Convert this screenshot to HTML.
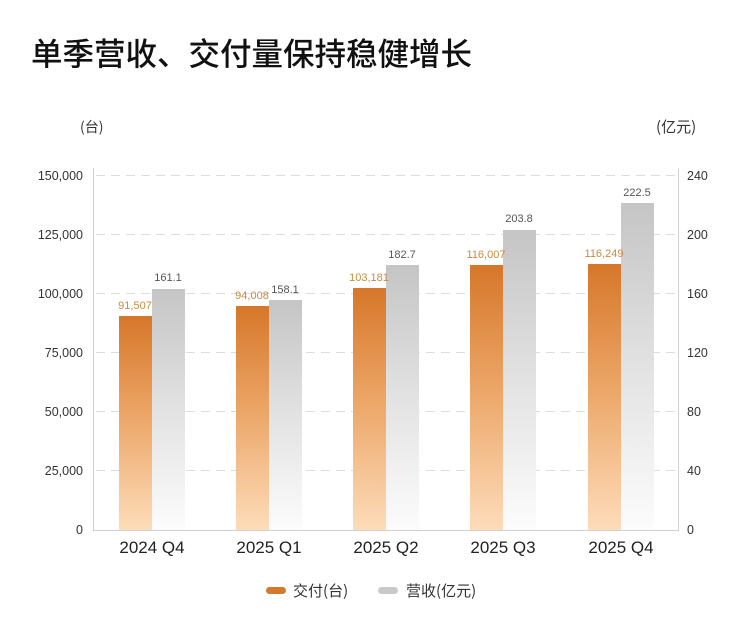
<!DOCTYPE html>
<html><head><meta charset="utf-8">
<style>
html,body{margin:0;padding:0;background:#fff;}
svg{display:block;}
text{font-family:"Liberation Sans","Noto Sans CJK SC",sans-serif;}
.cjk{font-family:"Noto Sans CJK SC","Liberation Sans",sans-serif;}
</style></head>
<body>
<svg width="750" height="639" viewBox="0 0 750 639" xmlns="http://www.w3.org/2000/svg">
<defs>
<linearGradient id="og" x1="0" y1="0" x2="0" y2="1">
<stop offset="0" stop-color="#d6772a"/>
<stop offset="0.45" stop-color="#eba464"/>
<stop offset="1" stop-color="#fddcba"/>
</linearGradient>
<linearGradient id="gg" x1="0" y1="0" x2="0" y2="1">
<stop offset="0" stop-color="#c5c5c5"/>
<stop offset="0.5" stop-color="#e2e2e2"/>
<stop offset="1" stop-color="#fcfcfc"/>
</linearGradient>
</defs>
<rect width="750" height="639" fill="#fff"/>
<text class="cjk" x="31" y="65" font-size="31.5" font-weight="500" fill="#111" textLength="441" lengthAdjust="spacing">单季营收、交付量保持稳健增长</text>
<text class="cjk" x="80" y="132" font-size="14" fill="#333">(台)</text>
<text class="cjk" x="656" y="132" font-size="15" fill="#333">(亿元)</text>

<!-- grid -->
<g stroke="#dcdcdc" stroke-width="1" stroke-dasharray="9,6">
<line x1="96" y1="175.5" x2="676" y2="175.5"/>
<line x1="96" y1="234.5" x2="676" y2="234.5"/>
<line x1="96" y1="293.5" x2="676" y2="293.5"/>
<line x1="96" y1="352.5" x2="676" y2="352.5"/>
<line x1="96" y1="411.5" x2="676" y2="411.5"/>
<line x1="96" y1="470.5" x2="676" y2="470.5"/>
</g>
<g stroke="#d0d0d0" stroke-width="1">
<line x1="93.5" y1="168" x2="93.5" y2="530"/>
<line x1="678.5" y1="168" x2="678.5" y2="530"/>
<line x1="93" y1="530.5" x2="679" y2="530.5"/>
</g>

<!-- left ticks -->
<g font-size="12.5" fill="#333" text-anchor="end">
<text x="83" y="180">150,000</text>
<text x="83" y="239">125,000</text>
<text x="83" y="298">100,000</text>
<text x="83" y="357">75,000</text>
<text x="83" y="416">50,000</text>
<text x="83" y="475">25,000</text>
<text x="83" y="534">0</text>
</g>
<g font-size="12.5" fill="#333">
<text x="687" y="180">240</text>
<text x="687" y="239">200</text>
<text x="687" y="298">160</text>
<text x="687" y="357">120</text>
<text x="687" y="416">80</text>
<text x="687" y="475">40</text>
<text x="687" y="534">0</text>
</g>

<!-- bars -->
<rect x="119" y="316" width="33" height="214" fill="url(#og)"/>
<rect x="152" y="289" width="33" height="241" fill="url(#gg)"/>
<rect x="236" y="306" width="33" height="224" fill="url(#og)"/>
<rect x="269" y="300" width="33" height="230" fill="url(#gg)"/>
<rect x="353" y="288" width="33" height="242" fill="url(#og)"/>
<rect x="386" y="265" width="33" height="265" fill="url(#gg)"/>
<rect x="470" y="265" width="33" height="265" fill="url(#og)"/>
<rect x="503" y="230" width="33" height="300" fill="url(#gg)"/>
<rect x="588" y="264" width="33" height="266" fill="url(#og)"/>
<rect x="621" y="203" width="33" height="327" fill="url(#gg)"/>

<!-- value labels -->
<g font-size="11" fill="#c98a3e" text-anchor="middle">
<text x="135" y="309">91,507</text>
<text x="252" y="299">94,008</text>
<text x="369" y="281">103,181</text>
<text x="486" y="258">116,007</text>
<text x="604" y="257">116,249</text>
</g>
<g font-size="11" fill="#555" text-anchor="middle">
<text x="168" y="281">161.1</text>
<text x="285" y="293">158.1</text>
<text x="402" y="258">182.7</text>
<text x="519" y="222">203.8</text>
<text x="637" y="196">222.5</text>
</g>

<!-- category labels -->
<g font-size="17" fill="#222" text-anchor="middle">
<text x="152" y="553">2024 Q4</text>
<text x="269" y="553">2025 Q1</text>
<text x="386" y="553">2025 Q2</text>
<text x="503" y="553">2025 Q3</text>
<text x="621" y="553">2025 Q4</text>
</g>

<!-- legend -->
<rect x="266" y="587" width="20" height="7" rx="3.5" fill="#d4792b"/>
<text class="cjk" x="293" y="596" font-size="15" fill="#333">交付(台)</text>
<rect x="378" y="587" width="20" height="7" rx="3.5" fill="#c9c9c9"/>
<text class="cjk" x="406" y="596" font-size="15" fill="#333">营收(亿元)</text>
</svg>
</body></html>
